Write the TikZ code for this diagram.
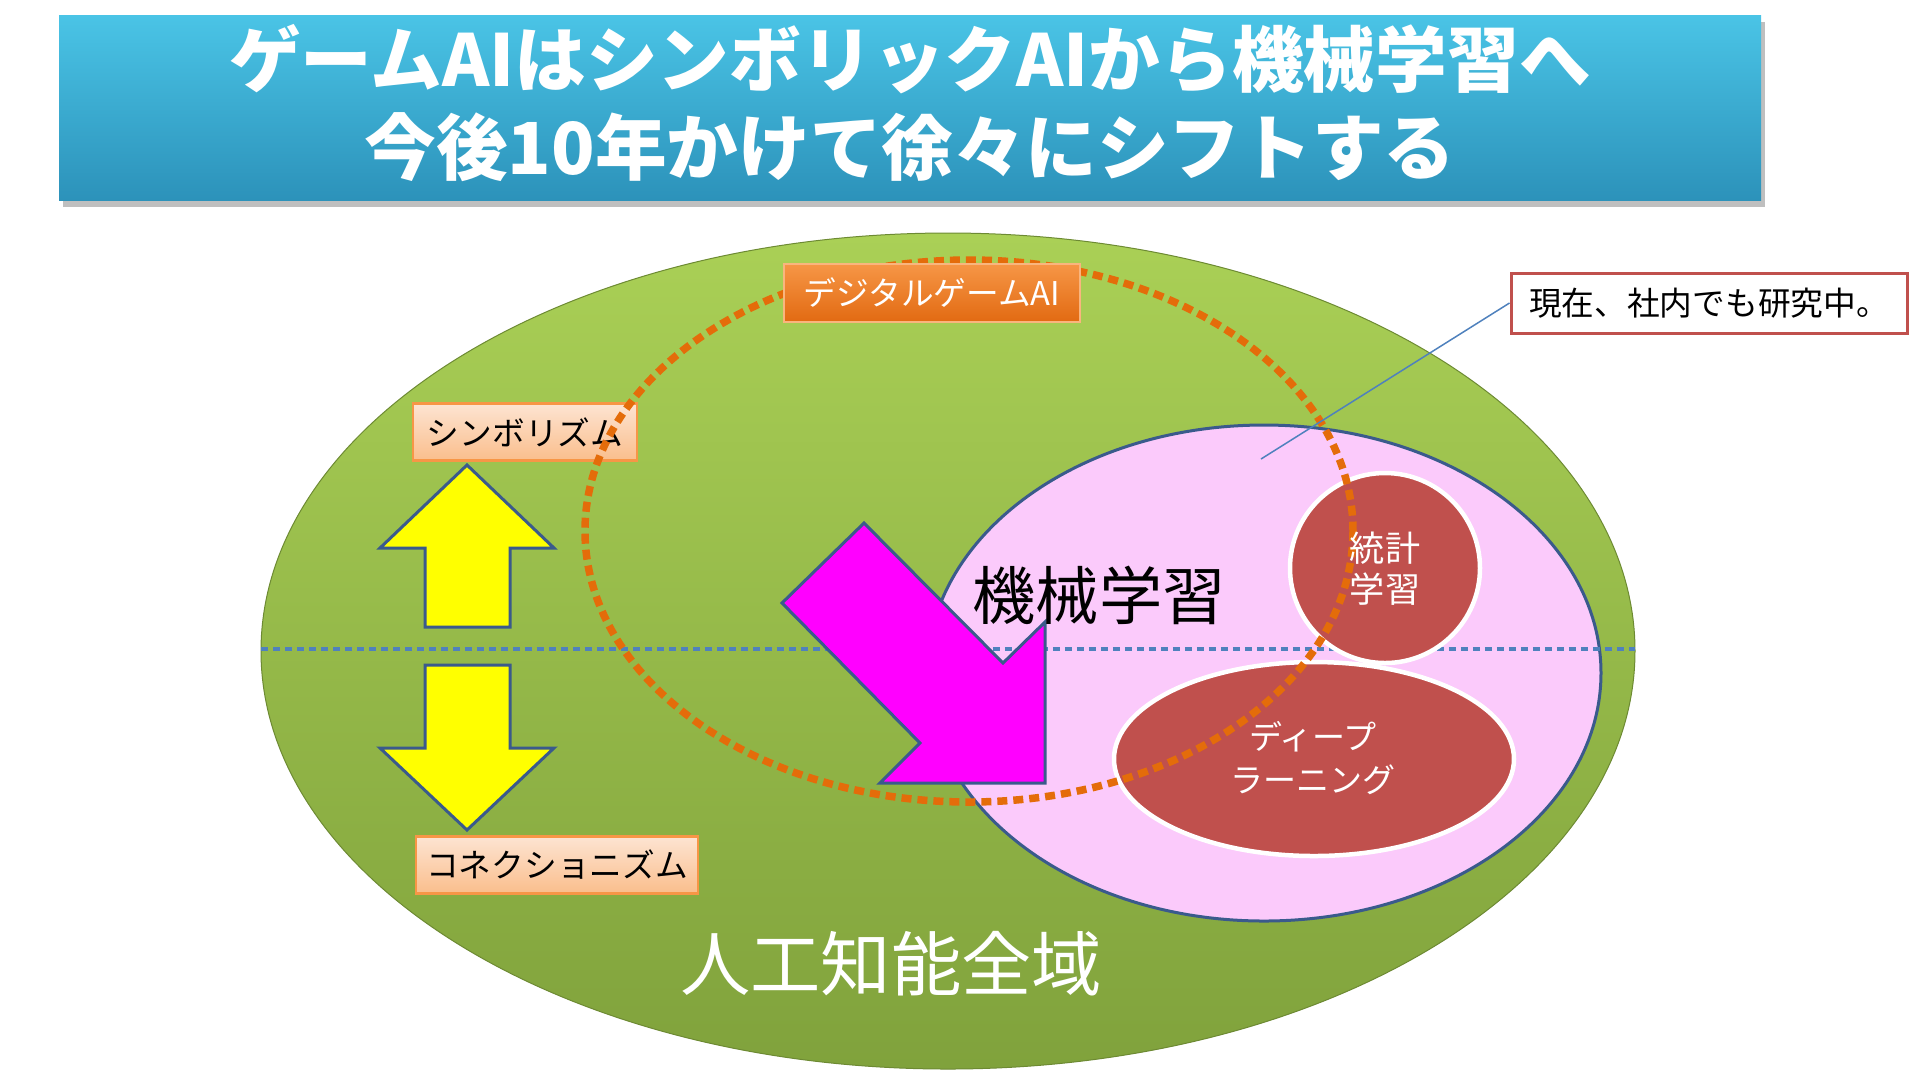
\documentclass[tikz,border=0pt]{standalone}
\usepackage{fontspec}
\usepackage{tikz}
\usepackage{xcolor}
\newfontfamily\jpfont{Noto Sans CJK JP}

\definecolor{bannertop}{RGB}{74,196,230}
\definecolor{bannerbot}{RGB}{44,146,186}
\definecolor{fieldtop}{RGB}{170,208,86}
\definecolor{fieldbot}{RGB}{128,162,60}
\definecolor{mlpink}{RGB}{251,202,251}
\definecolor{edgeblue}{RGB}{58,90,140}
\definecolor{dotblue}{RGB}{79,129,189}
\definecolor{dotorange}{RGB}{228,108,10}
\definecolor{blobred}{RGB}{192,80,77}
\definecolor{peachtop}{RGB}{253,228,210}
\definecolor{peachbot}{RGB}{250,190,140}
\definecolor{peachedge}{RGB}{247,150,70}
\definecolor{tagtop}{RGB}{246,150,70}
\definecolor{tagbot}{RGB}{226,106,18}
\definecolor{shiftpink}{RGB}{255,0,255}
\definecolor{arrowyellow}{RGB}{255,255,0}

\tikzset{
  peachbox/.style={draw=peachedge, line width=0.25mm, top color=peachtop, bottom color=peachbot,
    minimum height=5.7mm, inner sep=0pt, font=\jpfont\fontsize{9.3}{11}\selectfont},
  tagbox/.style={draw=tagtop!70!white, line width=0.2mm, top color=tagtop, bottom color=tagbot,
    text=white, minimum height=5.8mm, inner sep=0pt, font=\jpfont\fontsize{9.3}{11}\selectfont},
  notebox/.style={draw=blobred, line width=0.3mm, fill=white, minimum height=6mm,
    inner sep=0pt, font=\jpfont\fontsize{9.3}{11}\selectfont},
  yellowarrow/.style={draw=edgeblue, line width=0.3mm, fill=arrowyellow, line join=miter},
  shiftarrow/.style={draw=edgeblue, line width=0.3mm, fill=shiftpink, line join=miter},
  orangedots/.style={draw=dotorange, line width=0.75mm, dash pattern=on 1mm off 0.6mm},
  bluedots/.style={draw=dotblue, line width=0.45mm, dash pattern=on 0.7mm off 0.5mm},
  redblob/.style={fill=blobred, draw=white, line width=0.45mm},
  whitetext/.style={text=white, align=center, inner sep=0pt},
}

\begin{document}
\begin{tikzpicture}[x=0.1mm, y=-0.1mm]
      \useasboundingbox (0,0) rectangle (1920,1080);

      % title banner with its shadow
      \fill[black, opacity=0.25] (63,22) rectangle (1765,207);
      \shade[top color=bannertop, bottom color=bannerbot] (59,15) rectangle (1761,200);
      \node[whitetext, font=\jpfont\bfseries\fontsize{20.4}{25}\selectfont] (title) at (910,103)
        {ゲームAIはシンボリックAIから機械学習へ\\今後10年かけて徐々にシフトする};

      % whole field of AI
      \shade[top color=fieldtop, bottom color=fieldbot, draw=fieldbot!85!black, line width=0.1mm]
        (948,651) ellipse (687 and 418);

      % machine learning area
      \filldraw[fill=mlpink, draw=edgeblue, line width=0.3mm] (1264,673) ellipse (337 and 248);

      % split symbolism / connectionism
      \draw[bluedots] (261,649) -- (1635,649);

      % statistics and deep learning
      \filldraw[redblob] (1385,568) circle (95);
      \filldraw[redblob] (1314,759) ellipse (200 and 97);

      % up and down arrows
      \filldraw[yellowarrow] (467,465) -- (554,548) -- (510,548) -- (510,627)
        -- (425,627) -- (425,548) -- (380,548) -- cycle;
      \filldraw[yellowarrow] (425,665) -- (510,665) -- (510,748) -- (554,748)
        -- (467,830) -- (380,748) -- (425,748) -- cycle;

      % write symbolism, connectionism
      \node[peachbox, minimum width=22.4mm] (sym) at (525,432) {シンボリズム};
      \node[peachbox, minimum width=28.2mm] (con) at (557,865) {コネクショニズム};

      % shift arrow
      \filldraw[shiftarrow] (864,523) -- (1003,663) -- (1045,622) -- (1045,783)
        -- (880,783) -- (920,743) -- (782,603) -- cycle;

      % digital game AI
      \draw[orangedots] (969,531) ellipse (384 and 271);
      \node[tagbox, minimum width=29.6mm] (digi) at (932,293) {デジタルゲームAI};

      % write area names
      \node[inner sep=0pt, font=\jpfont\fontsize{18}{22}\selectfont] (ml) at (1099,595) {機械学習};
      \node[whitetext, font=\jpfont\fontsize{20}{24}\selectfont] (ai) at (891,964) {人工知能全域};
      \node[whitetext, font=\jpfont\fontsize{10}{11.7}\selectfont] (stat) at (1385,569) {統計\\学習};
      \node[whitetext, font=\jpfont\fontsize{9.4}{12}\selectfont] (deep) at (1313,758) {ディープ\\ラーニング};

      % callout
      \coordinate (mlpoint) at (1261,459);
      \node[notebox, minimum width=39.6mm] (note) at (1709,303) {現在、社内でも研究中。};
      \draw[dotblue, line width=0.15mm] (note.west) -- (mlpoint);
\end{tikzpicture}
\end{document}
